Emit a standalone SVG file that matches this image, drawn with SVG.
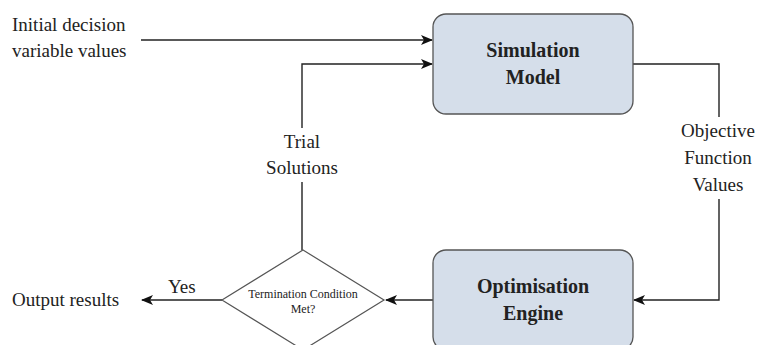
<svg xmlns="http://www.w3.org/2000/svg" width="760" height="345" viewBox="0 0 760 345">
<style>
.t{font-family:"Liberation Serif","Times New Roman",serif;fill:#222;}
.lbl{font-size:19px;}
.bold{font-size:20px;font-weight:bold;}
.sm{font-size:12px;}
.box{fill:#d5deea;stroke:#555;stroke-width:1.3;}
.dia{fill:#fff;stroke:#555;stroke-width:1.2;}
.ln{fill:none;stroke:#222;stroke-width:1.4;}
</style>
<defs>
<marker id="ah" viewBox="0 0 12 10" refX="11" refY="5" markerWidth="12" markerHeight="10" markerUnits="userSpaceOnUse" orient="auto">
<path d="M0,0 L12,5 L0,10 L3,5 Z" fill="#111"/>
</marker>
</defs>
<rect width="760" height="345" fill="#fff"/>
<g id="connectors">
<path class="ln" d="M141,40 H432" marker-end="url(#ah)"/>
<path class="ln" d="M302,250 V182 M302,128 V64 H432" marker-end="url(#ah)"/>
<path class="ln" d="M633,64 H719 V117 M719,199 V300 H634" marker-end="url(#ah)"/>
<path class="ln" d="M433,300 H386" marker-end="url(#ah)"/>
<path class="ln" d="M222,300 H142" marker-end="url(#ah)"/>
</g>
<g id="labels">
<text class="t lbl" x="12" y="31">Initial decision</text>
<text class="t lbl" x="12" y="57">variable values</text>
<text class="t lbl" x="302" y="148" text-anchor="middle">Trial</text>
<text class="t lbl" x="302" y="174" text-anchor="middle">Solutions</text>
<text class="t lbl" x="718" y="137" text-anchor="middle">Objective</text>
<text class="t lbl" x="718" y="164" text-anchor="middle">Function</text>
<text class="t lbl" x="718" y="191" text-anchor="middle">Values</text>
<text class="t lbl" x="168" y="293">Yes</text>
<text class="t lbl" x="12" y="306">Output results</text>
</g>
<g id="simulation-model">
<rect class="box" x="433" y="14" width="200" height="100" rx="13"/>
<text class="t bold" x="533" y="57" text-anchor="middle">Simulation</text>
<text class="t bold" x="533" y="84" text-anchor="middle">Model</text>
</g>
<g id="optimisation-engine">
<rect class="box" x="433" y="250" width="200" height="100" rx="13"/>
<text class="t bold" x="533" y="293" text-anchor="middle">Optimisation</text>
<text class="t bold" x="533" y="320" text-anchor="middle">Engine</text>
</g>
<g id="termination-decision">
<polygon class="dia" points="303,250 384,300 303,350 222,300"/>
<text class="t sm" x="303" y="298" text-anchor="middle">Termination Condition</text>
<text class="t sm" x="303" y="313" text-anchor="middle">Met?</text>
</g>
</svg>
